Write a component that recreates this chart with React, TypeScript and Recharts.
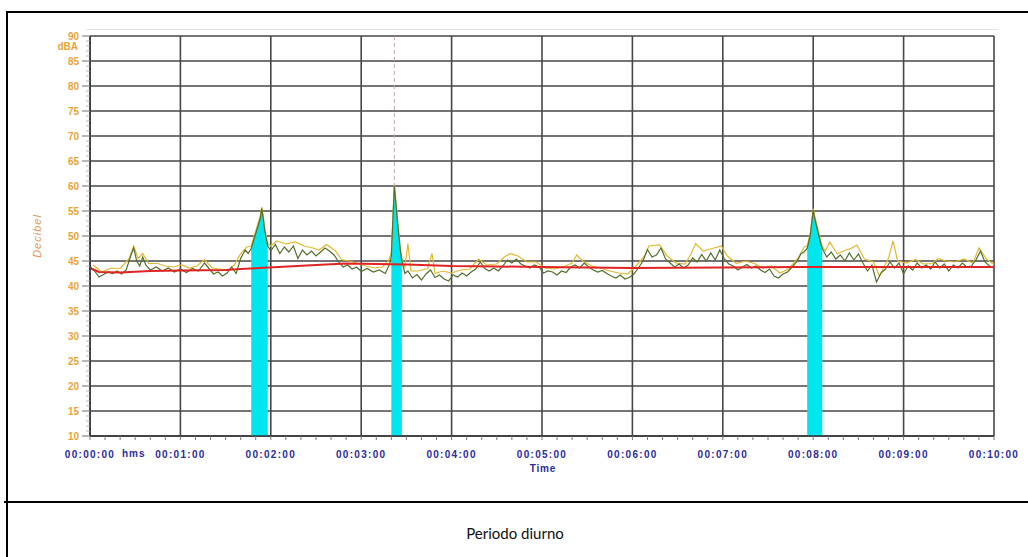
import React from 'react';
import { ComposedChart, Line, Area, XAxis, YAxis, CartesianGrid, ReferenceLine } from 'recharts';

// [seconds, dB] instantaneous level (dark green trace)
const greenSamples: [number, number][] = [
  [0, 43.8], [3, 43.0], [6, 41.8], [9, 42.3], [12, 42.8], [15, 42.5], [18, 43.0], [21, 42.4], [24, 43.2], [27, 46.0],
  [29, 47.6], [31, 45.0], [33, 44.0], [35, 45.8], [37, 44.2], [40, 43.2], [44, 43.8], [48, 43.0], [52, 43.6], [56, 42.8],
  [60, 43.4], [64, 42.7], [68, 43.5], [72, 43.0], [76, 44.6], [79, 43.5], [82, 42.4], [85, 42.8], [88, 42.0], [91, 42.6],
  [94, 43.8], [97, 42.5], [100, 45.5], [103, 47.2], [105, 46.5],
  [107, 47.5], [109, 49.5], [111, 51.5], [113, 53.5], [114, 55.5], [115, 53.5], [116, 51.0], [118, 48.0],
  [120, 47.0], [123, 48.3], [126, 46.5], [129, 47.8], [132, 46.8], [135, 48.0], [138, 45.5], [141, 47.2], [144, 46.2], [147, 47.0],
  [150, 46.0], [153, 46.8], [156, 47.6], [159, 47.0], [162, 46.2], [165, 44.8], [168, 43.8], [171, 44.2], [174, 43.4], [177, 43.8],
  [180, 42.9], [184, 43.5], [188, 42.8], [192, 43.2], [196, 42.5], [199, 44.5],
  [200, 46.0], [202, 60.0], [203, 56.5], [204, 53.0], [205, 50.0], [206, 47.0], [207, 45.0],
  [209, 42.5], [211, 43.0], [214, 41.6], [217, 42.3], [220, 41.2], [223, 42.4], [226, 43.2], [229, 41.7], [232, 42.2], [235, 41.4],
  [238, 41.0], [241, 42.2], [244, 41.8], [247, 42.6], [250, 42.0], [253, 42.8], [256, 43.4], [259, 44.8], [262, 43.5], [265, 43.0],
  [268, 43.6], [271, 43.0], [274, 44.0], [277, 45.2], [280, 44.6], [283, 45.4], [286, 44.4], [289, 44.0], [292, 43.6], [295, 44.2],
  [298, 43.8], [301, 42.6], [304, 43.0], [307, 42.8], [310, 42.2], [313, 43.0], [316, 42.7], [319, 43.8], [322, 44.2], [325, 43.6],
  [328, 44.6], [331, 43.8], [334, 43.2], [337, 42.8], [340, 43.1], [343, 42.5], [346, 42.0], [349, 41.6], [352, 42.2], [355, 41.4],
  [358, 41.7], [361, 42.4], [364, 43.6], [367, 45.0], [370, 47.3], [373, 45.8], [376, 46.2], [379, 47.6], [382, 45.4], [385, 44.6],
  [388, 43.8], [391, 44.4], [394, 43.6], [397, 44.2], [400, 45.6], [403, 44.8], [406, 46.3], [409, 45.0], [412, 46.6], [415, 45.2],
  [418, 47.2], [421, 45.4], [424, 44.4], [427, 44.0], [430, 43.2], [433, 43.8], [436, 44.3], [439, 43.6], [442, 44.0], [445, 43.2],
  [448, 42.7], [451, 43.4], [454, 42.0], [457, 41.6], [460, 42.4], [463, 42.8], [466, 43.8], [469, 44.8], [472, 46.5], [474, 46.8],
  [476, 47.5], [478, 50.0], [479, 52.5], [480, 55.2], [481, 53.5], [483, 51.0], [485, 48.5], [486, 47.5],
  [489, 45.8], [492, 46.8], [495, 45.4], [498, 46.2], [501, 45.0], [504, 46.6], [507, 45.2], [510, 46.4], [513, 44.6], [516, 43.0],
  [519, 44.2], [522, 40.8], [525, 42.6], [528, 43.4], [531, 44.8], [534, 43.6], [537, 44.6], [540, 42.4], [543, 44.0], [546, 43.2],
  [549, 44.6], [552, 43.6], [555, 44.2], [558, 43.4], [561, 44.8], [564, 43.6], [567, 44.4], [570, 43.0], [573, 44.2], [576, 43.6],
  [579, 44.6], [582, 43.8], [585, 44.0], [588, 45.2], [591, 47.0], [594, 44.8], [597, 44.0], [600, 43.6],
];

// [seconds, dB] maximum level (yellow trace)
const yellowSamples: [number, number][] = [
  [2, 44.2], [8, 42.8], [14, 43.6], [20, 43.5], [26, 45.5], [29, 48.0], [32, 45.5], [35, 46.5], [39, 44.5], [45, 44.5],
  [50, 44.0], [55, 43.8], [61, 44.2], [66, 43.6], [71, 44.0], [76, 45.3], [81, 43.6], [86, 43.4], [92, 43.2], [96, 44.3],
  [100, 46.5], [104, 47.8],
  [107, 48.0], [109, 50.0], [111, 52.0], [113, 54.0], [114, 55.8], [115, 54.0], [116, 51.5], [118, 48.5],
  [120, 48.0], [124, 49.0], [130, 48.4], [136, 48.8], [142, 48.0], [148, 47.6], [152, 47.2], [157, 48.3], [163, 47.0], [167, 45.3],
  [172, 45.0], [178, 44.5], [183, 44.0], [189, 43.6], [194, 43.8], [198, 45.0],
  [200, 46.5], [202, 60.2], [203, 57.0], [204, 53.5], [205, 50.5], [206, 47.5], [207, 45.5],
  [209, 43.6], [211, 48.5], [213, 43.0], [218, 43.0], [224, 43.5], [227, 46.5], [229, 42.5], [234, 43.0], [240, 42.6], [246, 43.2],
  [252, 43.4], [258, 45.4], [263, 44.2], [270, 44.4], [275, 45.8], [279, 46.5], [284, 46.0], [290, 44.8], [296, 44.8], [302, 43.6],
  [308, 43.4], [314, 43.8], [320, 44.6], [323, 46.2], [327, 45.0], [333, 44.0], [339, 43.6], [345, 43.0], [351, 42.6], [357, 42.4],
  [363, 44.2], [368, 46.0], [371, 48.0], [378, 48.2], [383, 46.0], [389, 44.6], [395, 44.4], [399, 46.5], [402, 48.5], [407, 47.0],
  [413, 47.5], [419, 48.0], [423, 46.0], [429, 44.5], [435, 45.0], [441, 44.5], [447, 43.6], [452, 44.0], [458, 42.6], [464, 43.5],
  [470, 45.6], [474, 47.8],
  [476, 48.0], [478, 50.5], [479, 53.0], [480, 55.5], [481, 54.0], [483, 51.5], [485, 49.0], [486, 48.0],
  [488, 47.0], [491, 48.8], [496, 46.4], [500, 47.0], [505, 47.5], [509, 48.2], [514, 45.4], [520, 44.8], [524, 42.0], [530, 45.6],
  [533, 49.0], [536, 45.0], [542, 44.6], [548, 45.3], [553, 44.4], [559, 44.5], [563, 45.5], [568, 45.0], [574, 44.8], [580, 45.4],
  [586, 44.6], [590, 47.6], [595, 45.4], [600, 44.3],
];

// [seconds, dB] running Leq (red)
const leqSamples: [number, number][] = [
  [0, 43.6], [6, 42.8], [20, 42.7], [40, 43.0], [60, 43.1], [90, 43.2], [100, 43.4], [125, 43.8], [150, 44.2], [170, 44.5],
  [190, 44.4], [210, 44.3], [240, 44.0], [270, 43.9], [300, 43.8], [360, 43.6], [420, 43.7], [470, 43.8], [540, 43.8], [600, 43.8],
];

// marked (cyan) events, [start, end] seconds
const markedRanges: [number, number][] = [[107, 118], [200, 207], [476, 486]];

const xTickSeconds = [0, 60, 120, 180, 240, 300, 360, 420, 480, 540, 600];
const xTickLabels = ['00:00:00', '00:01:00', '00:02:00', '00:03:00', '00:04:00', '00:05:00', '00:06:00', '00:07:00', '00:08:00', '00:09:00', '00:10:00'];
const yTicks = [10, 15, 20, 25, 30, 35, 40, 45, 50, 55, 60, 65, 70, 75, 80, 85, 90];
const xMinorTicks = Array.from({ length: 61 }, (_, i) => i * 10);
const yMinorTicks = Array.from({ length: 81 }, (_, i) => 10 + i);
const markerSecond = 202;

function buildTable() {
  const map = new Map<number, any>();
  const get = (t: number) => {
    if (!map.has(t)) map.set(t, { t, green: null, yellow: null, leq: null, marked: null });
    return map.get(t);
  };
  greenSamples.forEach(([t, v]) => { get(t).green = v; });
  yellowSamples.forEach(([t, v]) => { get(t).yellow = v; });
  leqSamples.forEach(([t, v]) => { get(t).leq = v; });
  const rows = Array.from(map.values()).sort((a, b) => a.t - b.t);
  rows.forEach((r) => {
    const inRange = markedRanges.some(([a, b]) => r.t >= a && r.t <= b);
    r.marked = inRange && r.green !== null ? r.green : null;
  });
  return rows;
}

const data = buildTable();

const LABEL_FONT = '"Liberation Sans", Arial, sans-serif';
const BLUE = '#2c2c9c';
const ORANGE = '#e8a43a';

const XTick = (props: any) => {
  const { x, y, payload } = props;
  const v = payload.value;
  const idx = xTickSeconds.indexOf(v);
  return (
    <g>
      <line x1={x} x2={x} y1={y} y2={y + 4} stroke="#777" strokeWidth={1} />
      {idx >= 0 && (
        <text x={x} y={y + 22} textAnchor="middle" fill={BLUE} fontFamily={LABEL_FONT} fontWeight="bold" fontSize={10} letterSpacing={1.3}>
          {xTickLabels[idx]}
        </text>
      )}
    </g>
  );
};

const YTick = (props: any) => {
  const { x, y, payload } = props;
  const v = payload.value;
  const major = yTicks.includes(v);
  return (
    <g>
      <line x1={x - (major ? 8 : 4)} x2={x} y1={y} y2={y} stroke={major ? '#888' : '#aaa'} strokeWidth={major ? 1.2 : 0.8} />
      {major && (
        <text x={x - 11} y={y} textAnchor="end" dominantBaseline="central" fill={ORANGE} fontFamily={LABEL_FONT} fontWeight="bold" fontSize={10}>
          {v}
        </text>
      )}
    </g>
  );
};

export default function App() {
  return (
    <div style={{ position: 'absolute', left: 0, top: 0, width: 1028, height: 557, background: '#fff', overflow: 'hidden' }}>
      <div style={{ position: 'absolute', left: 0, top: 0 }}>
        <ComposedChart width={1028} height={557} data={data} margin={{ top: 36, right: 34, left: 0, bottom: 0 }}>
          <XAxis xAxisId="grid" type="number" dataKey="t" domain={[0, 600]} ticks={xTickSeconds} hide />
          <YAxis yAxisId="grid" type="number" domain={[10, 90]} ticks={yTicks} allowDataOverflow hide />
          <CartesianGrid xAxisId="grid" yAxisId="grid" stroke="#474747" strokeWidth={1.6} />
          <XAxis
            type="number"
            dataKey="t"
            domain={[0, 600]}
            ticks={xMinorTicks}
            interval={0}
            height={121}
            tickSize={0}
            tickMargin={0}
            tickLine={false}
            axisLine={{ stroke: '#333', strokeWidth: 1.5 }}
            tick={XTick}
          />
          <YAxis
            type="number"
            domain={[10, 90]}
            ticks={yMinorTicks}
            interval={0}
            width={90}
            tickSize={0}
            tickMargin={0}
            tickLine={false}
            axisLine={{ stroke: '#333', strokeWidth: 1.5 }}
            tick={YTick}
          />
          <Line xAxisId="grid" yAxisId="grid" type="linear" dataKey="leq" stroke="transparent" strokeWidth={0} dot={false} activeDot={false} connectNulls legendType="none" isAnimationActive={false} />
          <Line type="linear" dataKey="yellow" stroke="#e2b832" strokeWidth={1.2} dot={false} connectNulls isAnimationActive={false} />
          <Line type="linear" dataKey="green" stroke="#52702c" strokeWidth={1.2} dot={false} connectNulls isAnimationActive={false} />
          <Line type="linear" dataKey="leq" stroke="#e02424" strokeWidth={2} dot={false} connectNulls isAnimationActive={false} />
          <Area type="linear" dataKey="marked" stroke="#00e6ee" strokeWidth={1} fill="#00e6ee" fillOpacity={1} baseValue="dataMin" connectNulls={false} dot={false} activeDot={false} isAnimationActive={false} />
          <ReferenceLine segment={[{ x: markerSecond, y: 90 }, { x: markerSecond, y: 60 }]} stroke="#c9a5a5" strokeDasharray="4 3" strokeWidth={1} />
        </ComposedChart>
      </div>

      {/* chart image frame (faint) */}
      <div style={{ position: 'absolute', left: 86, top: 29, width: 912, height: 1, background: '#e2e2e2' }} />

      {/* axis captions */}
      <div style={{ position: 'absolute', left: 40, top: 41, width: 38, textAlign: 'right', color: ORANGE, fontFamily: LABEL_FONT, fontWeight: 'bold', fontSize: 10, lineHeight: '12px' }}>dBA</div>
      <div style={{ position: 'absolute', left: 37, top: 236, width: 0, height: 0 }}>
        <div style={{ position: 'absolute', left: -40, top: -8, width: 80, textAlign: 'center', transform: 'rotate(-90deg)', color: '#e8955a', fontFamily: LABEL_FONT, fontStyle: 'italic', fontSize: 11, letterSpacing: 1, lineHeight: '16px' }}>Decibel</div>
      </div>
      <div style={{ position: 'absolute', left: 122, top: 448, color: BLUE, fontFamily: LABEL_FONT, fontWeight: 'bold', fontSize: 10, letterSpacing: 1, lineHeight: '12px' }}>hms</div>
      <div style={{ position: 'absolute', left: 503, top: 463, width: 80, textAlign: 'center', color: BLUE, fontFamily: LABEL_FONT, fontWeight: 'bold', fontSize: 10, letterSpacing: 0.8, lineHeight: '12px' }}>Time</div>

      {/* document table frame */}
      <div style={{ position: 'absolute', left: 6, top: 11, width: 1022, height: 2, background: '#000' }} />
      <div style={{ position: 'absolute', left: 6, top: 11, width: 2, height: 546, background: '#000' }} />
      <div style={{ position: 'absolute', left: 4, top: 501, width: 1024, height: 2, background: '#000' }} />
      <div style={{ position: 'absolute', left: 315, top: 523, width: 400, textAlign: 'center', fontFamily: 'Lato, "Open Sans", sans-serif', fontSize: 15, color: '#111', lineHeight: '20px' }}>Periodo diurno</div>
    </div>
  );
}
